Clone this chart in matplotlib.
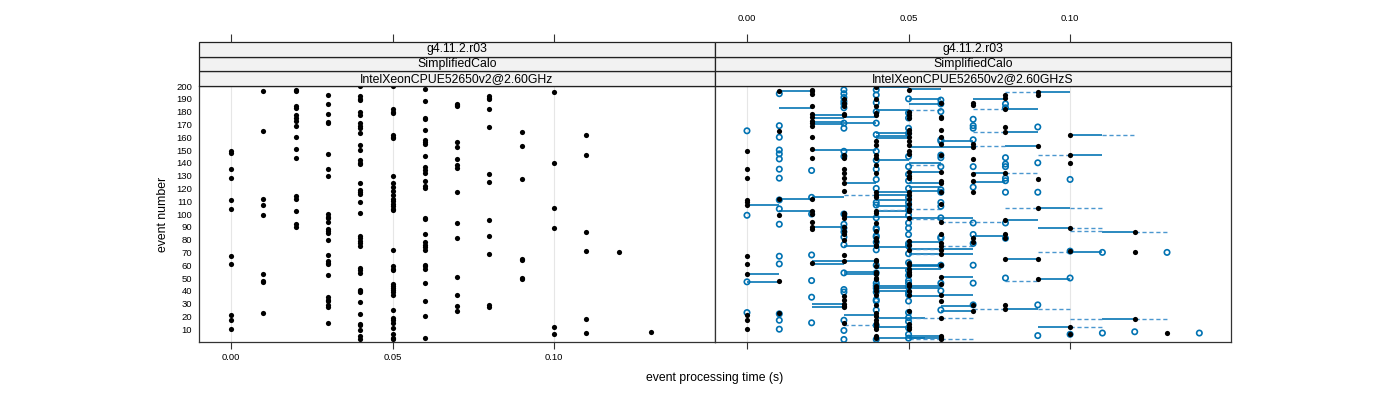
import matplotlib
matplotlib.use("Agg")
import matplotlib.pyplot as plt
from matplotlib.patches import Rectangle

plt.rcParams['font.family'] = ['Liberation Sans', 'DejaVu Sans']

# ---------------- data ----------------
strip_top = ["g4.11.2.r03", "g4.11.2.r03"]
strip_mid = ["SimplifiedCalo", "SimplifiedCalo"]
strip_bot = ["IntelXeonCPUE52650v2@2.60GHz", "IntelXeonCPUE52650v2@2.60GHzS"]

x_ticks = [0.00, 0.05, 0.10]
x_ticklabels = ["0.00", "0.05", "0.10"]
y_ticks = list(range(10, 201, 10))

# left panel: event numbers per time bin
left_times = [0.00, 0.01, 0.02, 0.03, 0.04, 0.05, 0.06, 0.07, 0.08, 0.09, 0.10, 0.11, 0.12, 0.13]
left_events = [
    [149, 148, 135, 128, 111, 104, 67, 61, 21, 17, 10],
    [196, 165, 112, 107, 99, 53, 48, 47, 23],
    [197, 196, 184, 183, 177, 175, 173, 169, 160, 151, 144, 114, 112, 102, 92, 90],
    [193, 186, 178, 172, 171, 147, 135, 130, 100, 98, 97, 94, 88, 87, 85, 80, 68, 63, 62, 61, 52, 35, 33, 32, 29, 27, 15],
    [200, 192, 190, 189, 180, 177, 171, 169, 167, 163, 154, 150, 142, 140, 139, 124, 119, 117, 116, 109, 101,
     83, 81, 79, 77, 75, 58, 56, 54, 41, 40, 39, 31, 22, 14, 13, 9, 5, 2],
    [200, 182, 180, 179, 162, 160, 159, 130, 124, 121, 118, 115, 112, 110, 108, 106, 104, 103, 72, 59, 57, 56,
     45, 44, 42, 41, 39, 37, 25, 19, 17, 15, 11, 6, 3, 2],
    [198, 188, 175, 174, 166, 158, 156, 155, 145, 137, 134, 132, 126, 122, 120, 97, 96, 84, 78, 76, 74, 72, 60,
     59, 57, 46, 32, 20, 3],
    [186, 185, 184, 156, 152, 143, 138, 136, 117, 93, 81, 51, 37, 28, 24],
    [192, 191, 190, 182, 168, 131, 125, 95, 83, 69, 29, 27],
    [164, 153, 127, 65, 64, 50, 49],
    [195, 140, 105, 89, 12, 6],
    [162, 146, 86, 71, 18, 7],
    [70],
    [8],
]

# right panel
right_times = [0.00, 0.01, 0.02, 0.03, 0.04, 0.05, 0.06, 0.07, 0.08, 0.09, 0.10, 0.11, 0.12, 0.13, 0.14]
right_black = [
    [149, 135, 128, 111, 109, 107, 67, 61, 53, 21, 17, 10],
    [196, 165, 112, 99, 48, 23],
    [197, 196, 194, 184, 178, 176, 173, 171, 169, 160, 151, 144, 112, 102, 100, 94, 90, 88, 62],
    [190, 187, 184, 178, 177, 146, 144, 135, 132, 128, 124, 118, 101, 99, 97, 90, 87, 84, 80, 68, 63, 36, 33,
     30, 28, 27, 15],
    [199, 190, 184, 179, 177, 157, 154, 146, 144, 138, 132, 117, 115, 113, 102, 101, 93, 87, 81, 79, 76, 75,
     64, 63, 59, 55, 53, 50, 49, 44, 42, 40, 37, 29, 23, 20, 17, 15, 14, 12, 10, 5, 3],
    [197, 180, 177, 175, 166, 163, 160, 157, 154, 149, 147, 133, 130, 128, 117, 115, 112, 108, 104, 102, 97,
     79, 76, 72, 62, 60, 57, 55, 53, 52, 45, 44, 40, 37, 24, 14, 12, 10],
    [187, 176, 175, 166, 160, 155, 146, 133, 126, 124, 117, 108, 94, 84, 77, 75, 72, 69, 60, 51, 45, 37, 32,
     19, 5, 4, 3, 2],
    [187, 185, 155, 152, 143, 131, 126, 117, 81, 78, 29, 24],
    [193, 191, 182, 168, 164, 132, 95, 84, 81, 65, 29, 26],
    [195, 193, 153, 127, 105, 65, 49],
    [162, 146, 140, 89, 71, 12, 6],
    [],
    [86, 70, 18],
    [7],
    [],
]
right_blue = [
    [165, 99, 47, 23],
    [194, 169, 160, 150, 147, 143, 135, 128, 111, 104, 92, 67, 61, 22, 17, 10],
    [134, 113, 100, 68, 48, 35, 15],
    [197, 194, 191, 188, 186, 183, 171, 167, 149, 145, 100, 92, 89, 86, 82, 76, 54, 41, 39, 17, 9, 2],
    [197, 193, 187, 180, 171, 162, 149, 142, 135, 127, 120, 109, 107, 97, 89, 88, 83, 82, 78, 72, 60, 54, 46,
     44, 42, 39, 33, 32, 25, 13, 2],
    [190, 179, 175, 167, 163, 145, 137, 131, 126, 120, 113, 109, 106, 103, 99, 93, 89, 84, 77, 75, 69, 62, 56,
     52, 48, 46, 43, 39, 37, 32, 23, 19, 16, 11, 6, 3],
    [189, 186, 180, 158, 157, 146, 144, 137, 119, 117, 109, 106, 97, 82, 81, 60, 46, 40, 25],
    [174, 169, 167, 158, 137, 121, 93, 84, 77, 60, 46, 29],
    [186, 183, 144, 139, 137, 128, 126, 117, 93, 81, 50],
    [168, 140, 117, 29, 5],
    [127, 71, 50, 6],
    [70, 7],
    [8],
    [70],
    [7],
]

# solid segments: event, start time, end time
solid_event = [107, 53, 47, 196, 183, 112, 102, 177, 175, 172, 170, 150, 113, 90, 63, 61, 30, 27,
               176, 171, 124, 98, 75, 55, 53, 21,
               199, 181, 163, 161, 159, 142, 117, 115, 111, 106, 102, 98, 74, 58, 44, 42, 40, 19, 12, 3,
               198, 190, 186, 152, 140, 133, 124, 121, 118, 78, 73, 69, 60, 59, 57, 44, 42, 36, 5, 3,
               97, 157, 152, 73, 69, 51, 37, 28, 24,
               190, 132, 125, 83,
               182, 164, 153, 95, 65, 26,
               195, 105, 89, 49, 12,
               162, 146, 70,
               86, 18]
solid_t0 = [0.00, 0.00, 0.00, 0.01, 0.01, 0.01, 0.01, 0.02, 0.02, 0.02, 0.02, 0.02, 0.02, 0.02, 0.02, 0.02, 0.02, 0.02,
            0.03, 0.03, 0.03, 0.03, 0.03, 0.03, 0.03, 0.03,
            0.04, 0.04, 0.04, 0.04, 0.04, 0.04, 0.04, 0.04, 0.04, 0.04, 0.04, 0.04, 0.04, 0.04, 0.04, 0.04, 0.04, 0.04, 0.04, 0.04,
            0.05, 0.05, 0.05, 0.05, 0.05, 0.05, 0.05, 0.05, 0.05, 0.05, 0.05, 0.05, 0.05, 0.05, 0.05, 0.05, 0.05, 0.05, 0.05, 0.05,
            0.05, 0.06, 0.06, 0.06, 0.06, 0.06, 0.06, 0.06, 0.06,
            0.07, 0.07, 0.07, 0.07,
            0.08, 0.08, 0.08, 0.08, 0.08, 0.08,
            0.09, 0.09, 0.09, 0.09, 0.09,
            0.10, 0.10, 0.10,
            0.11, 0.11]
solid_t1 = [0.01, 0.01, 0.01, 0.02, 0.02, 0.02, 0.02, 0.03, 0.03, 0.03, 0.03, 0.04, 0.03, 0.03, 0.04, 0.03, 0.03, 0.03,
            0.04, 0.04, 0.04, 0.04, 0.04, 0.04, 0.04, 0.04,
            0.05, 0.05, 0.05, 0.05, 0.05, 0.05, 0.05, 0.05, 0.05, 0.05, 0.05, 0.05, 0.05, 0.05, 0.05, 0.05, 0.05, 0.055, 0.05, 0.055,
            0.06, 0.06, 0.06, 0.06, 0.06, 0.06, 0.06, 0.06, 0.06, 0.06, 0.06, 0.06, 0.06, 0.06, 0.06, 0.06, 0.06, 0.06, 0.06, 0.06,
            0.07, 0.07, 0.07, 0.07, 0.07, 0.07, 0.07, 0.07, 0.07,
            0.08, 0.08, 0.08, 0.08,
            0.09, 0.09, 0.09, 0.09, 0.09, 0.09,
            0.10, 0.10, 0.10, 0.10, 0.10,
            0.11, 0.11, 0.11,
            0.12, 0.12]

# dashed segments
dashed_event = [115, 13, 103, 181, 138, 104, 96, 73, 69, 19, 2,
                94, 75, 19, 2, 182, 164, 153, 26,
                195, 132, 105, 48, 146, 70, 26,
                105, 89, 87, 12, 18, 162, 86, 18]
dashed_t0 = [0.03, 0.03, 0.04, 0.05, 0.05, 0.05, 0.05, 0.05, 0.05, 0.05, 0.05,
             0.06, 0.06, 0.06, 0.06, 0.07, 0.07, 0.07, 0.07,
             0.08, 0.08, 0.08, 0.08, 0.09, 0.09, 0.09,
             0.10, 0.10, 0.10, 0.10, 0.10, 0.11, 0.12, 0.12]
dashed_t1 = [0.04, 0.04, 0.05, 0.06, 0.06, 0.06, 0.06, 0.06, 0.06, 0.06, 0.06,
             0.08, 0.07, 0.07, 0.07, 0.08, 0.08, 0.08, 0.08,
             0.09, 0.09, 0.09, 0.09, 0.10, 0.10, 0.10,
             0.11, 0.11, 0.11, 0.11, 0.11, 0.12, 0.13, 0.13]

# ---------------- drawing ----------------
W, H = 1400, 400
fig = plt.figure(figsize=(W / 100, H / 100), dpi=100)

px_left = [199, 715]
px_width = 516
panel_top, panel_bot = 86, 342
strip_top_px = 42
xlim = (-0.0099, 0.1498)
ylim = (0, 200)
blue = '#0072B2'
dash_blue = '#4b97cf'

axes = []
for i in range(2):
    ax = fig.add_axes([px_left[i] / W, 1 - panel_bot / H, px_width / W, (panel_bot - panel_top) / H])
    ax.set_xlim(*xlim)
    ax.set_ylim(*ylim)
    for xv in x_ticks:
        ax.axvline(xv, color='#e6e6e6', lw=0.8, zorder=0)
    ax.set_xticks(x_ticks)
    ax.tick_params(axis='x', direction='out', length=5, width=0.8, color='#333333', labelsize=6.8, pad=3)
    if i == 0:
        ax.set_xticklabels(x_ticklabels)
        ax.set_yticks(y_ticks)
        ax.set_yticklabels([str(v) for v in y_ticks])
        ax.tick_params(axis='y', length=0, labelsize=6.8, pad=5)
        ax.set_ylabel("event number", fontsize=8.8, labelpad=5)
    else:
        ax.set_xticklabels([])
        ax.set_yticks([])
    for sp in ax.spines.values():
        sp.set_color('#333333')
        sp.set_linewidth(0.9)
    axes.append(ax)

    # strips / top axis
    sax = fig.add_axes([px_left[i] / W, 1 - panel_top / H, px_width / W, (panel_top - strip_top_px) / H])
    sax.set_xlim(*xlim)
    sax.set_ylim(0, 3)
    sax.set_yticks([])
    sax.set_xticks(x_ticks)
    sax.xaxis.set_ticks_position('top')
    sax.tick_params(axis='x', direction='out', length=6, width=0.8, color='#333333', labelsize=6.8, pad=8,
                    labeltop=(i == 1), labelbottom=False, bottom=False)
    if i == 1:
        sax.set_xticklabels(x_ticklabels)
    for sp in sax.spines.values():
        sp.set_visible(False)
    for k, txt in enumerate([strip_bot[i], strip_mid[i], strip_top[i]]):
        sax.add_patch(Rectangle((0, k / 3), 1, 1 / 3, transform=sax.transAxes, facecolor='#f2f2f2',
                                edgecolor='#222222', lw=0.9, clip_on=False))
        sax.text(0.5, (k + 0.5) / 3, txt, transform=sax.transAxes, ha='center', va='center', fontsize=8.8)

# left panel points
ax = axes[0]
for t, evs in zip(left_times, left_events):
    ax.scatter([t] * len(evs), evs, s=14, color='black', linewidths=0, zorder=3)

# right panel
ax = axes[1]
for e, t0, t1 in zip(solid_event, solid_t0, solid_t1):
    ax.plot([t0, t1], [e, e], color=blue, lw=1.3, alpha=0.9, solid_capstyle='butt', zorder=2)
for e, t0, t1 in zip(dashed_event, dashed_t0, dashed_t1):
    ax.plot([t0, t1], [e, e], color=dash_blue, lw=1.0, ls=(0, (3, 2)), zorder=2)
for t, evs in zip(right_times, right_blue):
    ax.scatter([t] * len(evs), evs, s=15, facecolors='none', edgecolors=blue, linewidths=1.2, zorder=3)
for t, evs in zip(right_times, right_black):
    ax.scatter([t] * len(evs), evs, s=14, color='black', linewidths=0, zorder=4)

fig.text(715 / W, 1 - 378 / H, "event processing time (s)", ha='center', va='center', fontsize=8.8)

fig.savefig("out.png", dpi=100)
